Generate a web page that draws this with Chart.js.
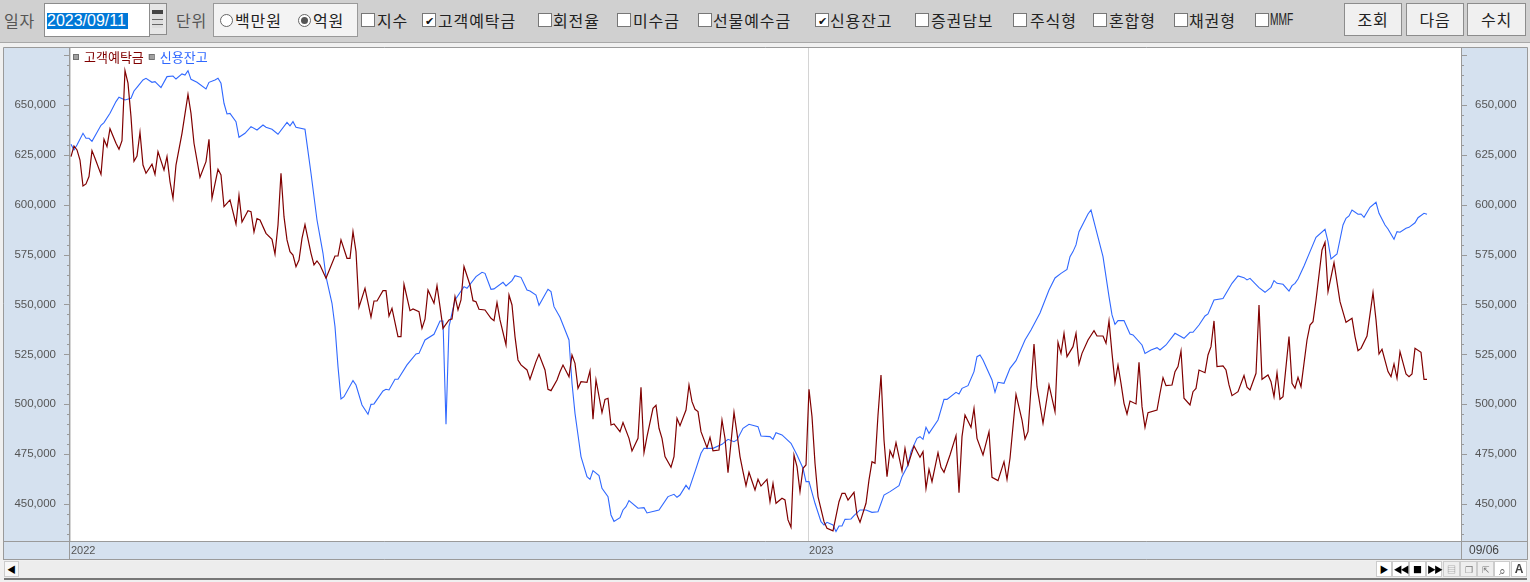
<!DOCTYPE html>
<html lang="ko">
<head>
<meta charset="utf-8">
<title>고객예탁금 / 신용잔고</title>
<script src="https://cdn.jsdelivr.net/npm/chart.js@4"></script>
<style>
html, body { margin: 0; padding: 0; width: 1530px; height: 582px; overflow: hidden; background: #f0f0f0; }
body { position: relative; font-family: "Noto Sans CJK KR", "Noto Sans", sans-serif; color: #222; }
#toolbar { position: absolute; left: 0; top: 0; width: 1530px; height: 42px; background: #d0d0d0; border-bottom: 1px solid #a8a8a8; }
#toolbar span, #toolbar div { position: absolute; }
.lbl { top: 8px; font-size: 16px; letter-spacing: 0.9px; line-height: 24px; white-space: nowrap; }
.dim { color: #555; }
.box { top: 13px; width: 12px; height: 12px; background: #fff; border: 1px solid #777; font-size: 11px; line-height: 12px; text-align: center; color: #111; }
.radio { top: 14px; width: 11px; height: 11px; background: #fff; border: 1px solid #666; border-radius: 50%; }
.radio i { position: absolute; left: 2px; top: 2px; width: 7px; height: 7px; border-radius: 50%; background: #555; }
.btn { top: 3px; height: 31px; background: #f0f0f0; border: 1px solid #8c8c8c; font-size: 16px; letter-spacing: 0.9px; line-height: 31px; text-align: center; }
#chartBox { position: absolute; left: 3px; top: 47px; width: 1525px; height: 513px; background: #d5e1ef; }
#dateCell { position: absolute; left: 1469px; top: 542px; font: 12px "Liberation Sans", sans-serif; color: #444; line-height: 16px; }
#bottomBar { position: absolute; left: 4px; top: 561px; width: 1523px; height: 17px; background: #ededed; border-bottom: 2px solid #777; }
#bottomBar span { position: absolute; top: 0; height: 16px; background: #fff; border: 1px solid #ccc; box-sizing: border-box; font-size: 9px; line-height: 15px; text-align: center; color: #000; }
</style>
</head>
<body>
<div id="toolbar">
  <span class="lbl dim" style="left:4px">일자</span>
  <div style="left:44px;top:3px;width:104px;height:32px;background:#fff;border:1px solid #8c8c8c"></div>
  <span style="left:47px;top:13px;width:81px;height:16px;background:#0078d7;color:#fff;font:16px/16px 'Liberation Sans',sans-serif;white-space:nowrap">2023/09/11</span>
  <div style="left:149px;top:3px;width:18px;height:32px;background:#e6e6e6;border:1px solid #8c8c8c;box-sizing:border-box"></div>
  <div style="left:152px;top:10px;width:11px;height:18px;background:linear-gradient(#444 0 4px,#ddd 4px 9px,#666 9px 10px,#ddd 10px 14px,#666 14px 15px,#ddd 15px)"></div>
  <span class="lbl dim" style="left:176px">단위</span>
  <div style="left:213px;top:3px;width:143px;height:32px;background:#f3f3f3;border:1px solid #999"></div>
  <div class="radio" style="left:220px"></div>
  <span class="lbl" style="left:235px">백만원</span>
  <div class="radio" style="left:298px"><i></i></div>
  <span class="lbl" style="left:313px">억원</span>
  <div class="box" style="left:361px"></div><span class="lbl" style="left:377px">지수</span>
  <div class="box" style="left:422px">✔</div><span class="lbl" style="left:438px">고객예탁금</span>
  <div class="box" style="left:538px"></div><span class="lbl" style="left:553px">회전율</span>
  <div class="box" style="left:617px"></div><span class="lbl" style="left:633px">미수금</span>
  <div class="box" style="left:698px"></div><span class="lbl" style="left:713px">선물예수금</span>
  <div class="box" style="left:815px">✔</div><span class="lbl" style="left:830px">신용잔고</span>
  <div class="box" style="left:915px"></div><span class="lbl" style="left:931px">증권담보</span>
  <div class="box" style="left:1013px"></div><span class="lbl" style="left:1030px">주식형</span>
  <div class="box" style="left:1093px"></div><span class="lbl" style="left:1109px">혼합형</span>
  <div class="box" style="left:1174px"></div><span class="lbl" style="left:1189px">채권형</span>
  <div class="box" style="left:1255px"></div><span class="lbl" style="left:1270px;font-family:'Liberation Sans',sans-serif;font-size:16px;letter-spacing:0;transform:scaleX(.64);transform-origin:left">MMF</span>
  <div class="btn" style="left:1344px;width:56px">조회</div>
  <div class="btn" style="left:1406px;width:56px">다음</div>
  <div class="btn" style="left:1467px;width:57px">수치</div>
</div>
<div id="chartBox"><canvas id="flowChart" width="1525" height="513"></canvas></div>
<div id="dateCell"></div>
<div id="bottomBar">
  <span style="left:0;width:15px;background:#f7f7f7">◀</span>
  <span style="left:1372px;width:16px">▶</span>
  <span style="left:1388px;width:17px;letter-spacing:-2px">◀◀</span>
  <span style="left:1405px;width:17px">■</span>
  <span style="left:1422px;width:16px;letter-spacing:-2px">▶▶</span>
  <span style="left:1439px;width:17px;color:#777;background:#eee">▤</span>
  <span style="left:1456px;width:17px;color:#777;background:#eee">❐</span>
  <span style="left:1473px;width:17px;color:#777;background:#eee">⇱</span>
  <span style="left:1490px;width:16px;color:#666;font-size:12px">⌕</span>
  <span style="left:1507px;width:16px;font:bold 12px/15px 'Liberation Sans',sans-serif;color:#444">A</span>
</div>
<script>
const seriesNames = ['고객예탁금', '신용잔고'];
const yearLabels = ['2022', '2023'];
const yearDays = [-0.33, 245.67];
const lastDate = '09/06';
const yTickValues = [450000, 475000, 500000, 525000, 550000, 575000, 600000, 625000, 650000];

// 거래일 순번, 억원
const depositDays = [
  0,1,2,3,4,5,6,7,8,10,11,12,13,15,16,17,18,19,20,21,22,23,24,25,27,28,29,31,32,33,34,35,37,39,40,41,43,45,46,47,49,50,51,53,55,56,57,59,60,61,62,63,65,67,68,69,70,71,72,73,74,75,76,77,78,
  80,81,82,83,85,88,89,90,92,93,94,95,96,98,100,101,102,104,105,106,107,109,110,111,113,114,116,117,118,119,121,122,123,124,126,127,128,129,130,131,133,134,135,136,138,140,141,142,143,145,146,147,148,149,150,152,153,155,156,158,159,160,162,
  163,164,166,167,168,169,170,172,173,174,175,177,178,179,180,181,183,184,186,187,189,190,191,192,194,195,196,197,198,200,201,202,203,205,206,207,208,209,210,212,213,214,216,217,218,219,221,222,223,224,225,226,228,229,230,232,233,234,235,237,238,239,240,241,242,243,244,245,246,247,248,
  249,251,252,254,256,257,258,259,261,262,263,265,266,267,268,269,270,271,272,273,274,275,277,278,279,281,283,284,285,286,287,289,290,291,293,295,296,297,298,300,301,302,304,306,307,309,311,312,313,315,317,318,319,321,322,324,326,328,329,
  330,331,332,334,335,336,337,339,341,342,344,345,346,347,348,349,350,351,352,353,355,356,357,358,359,362,363,364,365,367,368,369,370,371,373,374,375,376,378,379,380,381,382,384,385,386,387,389,391,392,393,395,396,
  397,399,400,401,402,403,404,406,407,408,409,410,412,413,414,415,417,418,419,421,423,425,427,428,429,430,432,434,435,436,437,439,440,441,442,443,445,446,447,448,450,451,452
];
const depositValues = [
  624100,629450,627450,622400,609400,610400,614100,627100,623300,615200,632800,629100,638100,630800,627800,632100,667200,660900,644150,621800,624400,636300,619900,615750,620300,615250,626600,617400,624100,611600,603200,619900,635800,655300,645800,630800,613750,621600,632800,603200,617750,614900,599050,602400,590350,604700,591350,597000,596500,586300,593000,592350,585650,582650,575300,589850,615750,594000,582350,576500,574800,568950,572300,583150,590000,
  575650,569800,571800,569800,563100,574300,574300,582350,573150,573150,586500,576500,548600,558100,543600,551750,551750,556950,556950,544250,548100,533900,533900,560100,546900,547750,546400,538050,542600,557250,550600,559450,548900,538050,542250,542750,553900,547250,552250,569000,559750,551900,551400,547600,547250,543050,541900,550900,542250,529700,554750,549750,533900,522200,519700,517200,512500,521350,525000,517200,507500,506800,512150,
  516300,519650,513800,524700,520500,508000,511300,511000,516800,492450,512150,495800,502450,503000,489600,490100,486250,490800,482900,476600,482900,508500,475750,483750,497950,499450,487950,482900,473750,468400,473750,492950,489250,497100,509650,501300,497450,496300,486250,478250,483400,476600,477050,492100,482900,465700,495950,485400,473750,466200,459200,465900,457000,462350,459000,462350,451150,460350,450350,452850,452000,442000,438300,474550,468700,456200,467900,469550,507500,493800,470400,
  453700,441150,437800,436500,451150,455350,455350,452000,455850,444500,440800,450350,462050,471200,470400,494600,514650,482100,463700,476700,473400,480750,466550,477900,469550,479100,473400,476250,457850,467400,461200,475700,468400,465900,474550,484250,455700,483750,494600,488450,497950,482900,474550,486250,463350,461700,471200,462350,472900,504950,492100,482600,486250,530200,508800,490450,509650,496300,531050,
  525500,535550,523850,528850,535550,520150,525500,532200,536900,534200,534200,530550,541750,525500,510800,519650,510500,500450,495100,501600,500150,521000,498800,488450,495800,497100,505500,513300,509300,509650,516300,518850,526700,503000,499650,506300,507950,517150,515800,524700,528850,541750,518850,519200,517150,509650,504300,506300,514350,508500,507150,515500,549750,
  512500,514650,511300,503800,515800,502500,503800,533900,510500,508000,513500,508800,532200,539700,541400,552250,577300,581150,556450,571000,551400,541050,543050,533900,526850,528000,534200,555950,542250,525200,527550,516350,513850,520200,513000,526350,515150,513850,515150,528000,526000,512500,512500
];

const creditDays = [
  0,1,2,4,5,6,7,10,11,13,15,16,18,20,21,22,24,25,27,28,30,32,34,35,37,38,39,40,42,45,46,48,49,50,51,52,53,55,56,58,60,62,64,65,67,69,72,73,74,75,78,80,
  82,83,84,85,87,88,89,90,91,94,95,97,99,100,101,104,105,106,108,109,112,115,116,118,121,123,124,125,126,128,131,132,135,137,138,140,141,144,145,147,148,150,152,153,155,156,159,160,161,163,
  166,167,168,169,170,172,173,174,176,177,179,180,181,183,184,185,186,189,191,192,195,196,199,201,202,203,205,206,208,210,211,214,217,219,221,222,224,226,229,230,233,234,235,237,240,242,244,245,246,248,250,
  251,252,254,255,256,257,258,260,261,263,265,267,269,271,273,276,277,279,280,282,283,284,285,286,289,291,292,295,296,297,299,301,302,303,304,307,308,309,311,313,315,318,320,323,326,328,
  330,332,333,334,335,336,339,340,342,344,345,346,347,348,349,351,353,354,357,358,360,362,363,365,368,371,373,374,376,378,379,381,384,387,389,391,392,393,396,398,400,
  401,402,404,406,407,408,409,411,413,415,418,419,420,422,424,425,426,427,429,430,431,433,435,436,438,439,441,442,443,445,446,448,449,451,452
];
const creditValues = [
  630300,627450,629950,635800,633300,633300,631800,639800,641150,645800,651700,653850,652500,653350,657000,658850,662550,663350,661350,661700,658700,664200,664500,663000,665550,665000,667200,662850,661350,658000,661350,662550,663350,660850,650850,645500,645800,641650,633800,635800,639150,637450,639950,638800,637800,635300,641300,639500,641650,638800,637800,615750,
  592350,584000,575650,563950,550600,538900,518850,502650,503800,511850,509650,499600,494950,499950,500150,506650,507500,507150,512500,512500,519700,525200,525500,532200,535050,541750,541750,490000,538900,552250,558950,558100,563950,566150,565600,557600,557800,561100,559300,561950,564450,563600,557250,556750,554750,549600,557600,556450,548900,543600,
  532200,510500,495450,484600,473750,463700,462350,466700,464200,457850,453700,444500,441300,443150,447000,448650,451700,447850,448150,445500,446650,447000,453700,454850,453350,454500,459350,457350,466200,475400,477900,477900,479900,482400,481250,482100,487950,489950,488750,484100,483750,482400,485750,484600,480400,474550,467900,461200,461200,450350,441150,
  439450,440800,439450,436150,439000,439000,442300,442500,444150,447000,447000,445800,446150,454500,456200,459200,463700,469550,476250,482900,483750,482400,488450,485400,492100,502450,502450,505950,505150,507950,509300,516350,523850,524700,522200,512150,506000,511000,510500,518000,521850,532200,537200,545750,557250,563300,
  565600,567600,573950,576500,579850,586500,595350,597350,585650,573950,563950,553950,544750,540050,541900,541900,535200,534700,529700,525500,527200,528350,527200,529700,535550,533050,536050,536050,539700,544250,545250,552250,552950,560600,564300,563450,562300,563100,558450,556100,558600,
  561950,560600,560100,556750,559450,560600,562800,569300,576500,583650,587700,581500,572800,575300,589850,593200,594350,597350,595200,595350,593700,598700,601200,595700,589850,587850,582700,586500,586200,588200,588650,590950,593500,595700,595200
];

document.getElementById('dateCell').textContent = lastDate;

function toPoints(days, values) {
    return days.map((d, i) => ({ x: d, y: values[i] }));
}

// 패널 배경, 테두리, 눈금, 범례
const framePlugin = {
    id: 'frame',
    beforeDraw(chart) {
        const { ctx, chartArea: a } = chart;
        ctx.save();
        ctx.fillStyle = '#fff';
        ctx.fillRect(a.left, a.top, a.right - a.left, a.bottom - a.top);
        ctx.restore();
    },
    afterDraw(chart) {
        const { ctx, chartArea: a, width, height } = chart;
        ctx.save();
        ctx.strokeStyle = '#9a9a9a';
        ctx.lineWidth = 1;
        ctx.beginPath();
        ctx.moveTo(0.5, height); ctx.lineTo(0.5, 0.5); ctx.lineTo(width - 0.5, 0.5); ctx.lineTo(width - 0.5, height);
        ctx.moveTo(0, height - 0.5); ctx.lineTo(width, height - 0.5);
        ctx.moveTo(a.left - 0.5, 0); ctx.lineTo(a.left - 0.5, height);
        ctx.moveTo(a.right + 0.5, 0); ctx.lineTo(a.right + 0.5, height);
        ctx.moveTo(0, a.bottom + 0.5); ctx.lineTo(width, a.bottom + 0.5);
        ctx.stroke();

        ctx.beginPath();
        ['y', 'y2'].forEach(id => {
            const scale = chart.scales[id];
            const dir = id === 'y' ? -1 : 1;
            const edge = id === 'y' ? a.left : a.right;
            for (let v = 435000; v <= 675000; v += 5000) {
                const py = Math.round(scale.getPixelForValue(v)) + 0.5;
                ctx.moveTo(edge, py);
                ctx.lineTo(edge + dir * (v % 25000 === 0 ? 6 : 3), py);
            }
        });
        ctx.stroke();

        let x = a.left + 3;
        const y = a.top + 9;
        ctx.font = '13px "Noto Sans CJK KR"';
        ctx.textBaseline = 'middle';
        chart.data.datasets.forEach(ds => {
            ctx.fillStyle = '#a0a0a0';
            ctx.strokeStyle = '#707070';
            ctx.fillRect(x, y - 3, 5, 5);
            ctx.strokeRect(x + 0.5, y - 2.5, 5, 5);
            ctx.fillStyle = ds.borderColor;
            ctx.fillText(ds.label, x + 11, y);
            x += 11 + ctx.measureText(ds.label).width + 5;
        });
        ctx.restore();
    }
};

const yScale = {
    min: 431450,
    max: 678550,
    grid: { display: false },
    border: { display: false },
    backgroundColor: '#d5e1ef',
    afterBuildTicks(scale) {
        scale.ticks = yTickValues.map(v => ({ value: v }));
    },
    afterFit(scale) {
        scale.width = 67;
        scale.paddingTop = 0;
        scale.paddingBottom = 0;
    },
    ticks: {
        autoSkip: false,
        padding: 6,
        color: '#555',
        font: { family: 'Liberation Sans', size: 11.5 },
        callback(value) {
            return value.toLocaleString('en-US');
        }
    }
};

new Chart(document.getElementById('flowChart').getContext('2d'), {
    type: 'line',
    data: {
        datasets: [{
            label: seriesNames[0],
            data: toPoints(depositDays, depositValues),
            borderColor: '#800000',
            borderWidth: 1.2,
            pointRadius: 0,
            tension: 0
        }, {
            label: seriesNames[1],
            data: toPoints(creditDays, creditValues),
            borderColor: '#3068ff',
            borderWidth: 1.1,
            pointRadius: 0,
            tension: 0
        }]
    },
    options: {
        responsive: false,
        animation: false,
        devicePixelRatio: 1,
        layout: { padding: { top: 1 } },
        plugins: {
            tooltip: { enabled: false },
            legend: { display: false }
        },
        scales: {
            x: {
                type: 'linear',
                min: -0.33,
                max: 463.33,
                backgroundColor: '#d5e1ef',
                border: { display: false },
                grid: { color: '#d4d4d4', drawTicks: false },
                afterBuildTicks(scale) {
                    scale.ticks = yearDays.map(v => ({ value: v }));
                },
                afterFit(scale) {
                    scale.height = 19;
                    scale.paddingLeft = 0;
                    scale.paddingRight = 0;
                },
                ticks: {
                    align: 'start',
                    autoSkip: false,
                    maxRotation: 0,
                    padding: 3,
                    labelOffset: 1,
                    color: '#555',
                    font: { family: 'Liberation Sans', size: 11 },
                    callback(value) {
                        return yearLabels[yearDays.indexOf(value)];
                    }
                }
            },
            y: { ...yScale, position: 'left' },
            y2: { ...yScale, position: 'right', display: true }
        }
    },
    plugins: [framePlugin]
});
</script>
</body>
</html>
